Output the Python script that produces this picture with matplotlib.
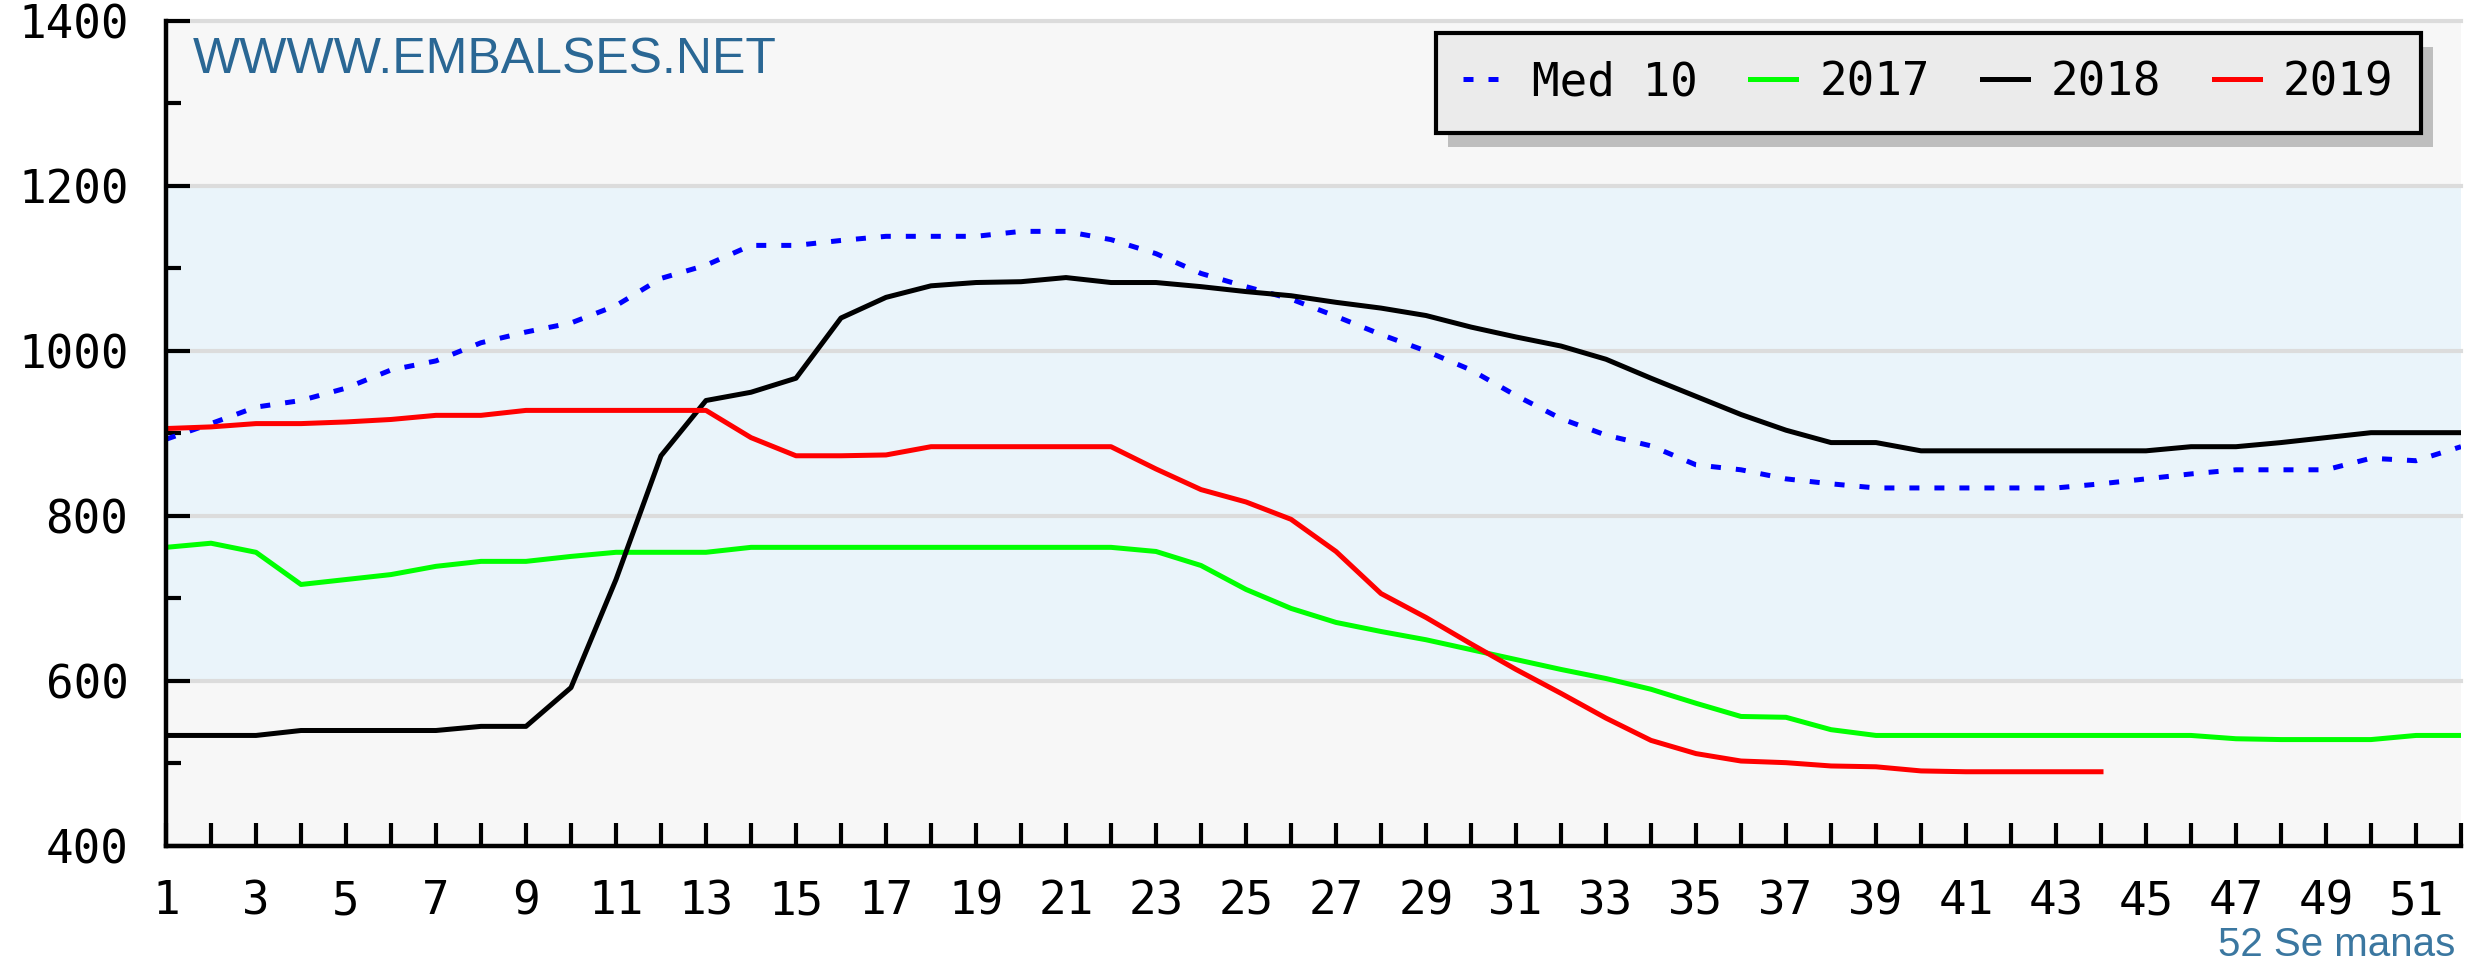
import matplotlib.pyplot as plt
from matplotlib.patches import Rectangle

# semanas e valores (hm3)
weeks = list(range(1, 53))
med10 = [893, 912, 932, 940, 955, 977, 988, 1010, 1023, 1034,
         1055, 1088, 1104, 1128, 1128, 1134, 1139, 1139, 1139, 1145,
         1145, 1135, 1118, 1094, 1078, 1063, 1042, 1020, 1000, 977,
         946, 918, 898, 885, 862, 856, 845, 839, 834, 834,
         834, 834, 834, 839, 845, 851, 856, 856, 856, 870,
         867, 884]
y2017 = [762, 767, 756, 717, 723, 729, 739, 745, 745, 751,
         756, 756, 756, 762, 762, 762, 762, 762, 762, 762,
         762, 762, 757, 740, 711, 688, 671, 660, 650, 638,
         626, 614, 603, 590, 573, 557, 556, 541, 534, 534,
         534, 534, 534, 534, 534, 534, 530, 529, 529, 529,
         534, 534]
y2018 = [534, 534, 534, 540, 540, 540, 540, 545, 545, 592,
         723, 873, 940, 950, 967, 1040, 1065, 1079, 1083, 1084,
         1089, 1083, 1083, 1078, 1072, 1067, 1059, 1052, 1043, 1029,
         1017, 1006, 990, 967, 945, 923, 904, 889, 889, 879,
         879, 879, 879, 879, 879, 884, 884, 889, 895, 901,
         901, 901]
y2019 = [906, 908, 912, 912, 914, 917, 922, 922, 928, 928,
         928, 928, 928, 895, 873, 873, 874, 884, 884, 884,
         884, 884, 857, 832, 817, 796, 757, 706, 677, 645,
         614, 585, 555, 528, 512, 503, 501, 497, 496, 491,
         490, 490, 490, 490]
weeks_2019 = weeks[:len(y2019)]

series_labels = ['Med 10', '2017', '2018', '2019']
y_major = list(range(400, 1401, 200))
y_minor = list(range(500, 1400, 200))
x_major = list(range(1, 53, 2))
x_minor = list(range(2, 53, 2))

mono = 'DejaVu Sans Mono'
blue_txt = '#2A6794'
lw = 3.6

fig = plt.figure(figsize=(24.79, 9.64), dpi=100)
ax = fig.add_axes([0.06696, 0.12241, 0.92578, 0.85581])

# fundo e faixa azul
ax.set_facecolor('#F7F7F7')
ax.axhspan(600, 1200, color='#EAF4FA', zorder=0)
for v in [600, 800, 1000, 1200, 1400]:
    ax.axhline(v, color='#DCDCDC', lw=3, zorder=0.5, clip_on=False)

# séries
ax.plot(weeks, med10, color='#0000FF', lw=lw, linestyle=(0, (2, 3)),
        dash_capstyle='butt', label=series_labels[0], zorder=3)
ax.plot(weeks, y2017, color='#00FF00', lw=lw, label=series_labels[1], zorder=3.1)
ax.plot(weeks, y2018, color='black', lw=lw, label=series_labels[2], zorder=3.2)
ax.plot(weeks_2019, y2019, color='#FF0000', lw=lw, label=series_labels[3], zorder=3.3)

ax.set_xlim(1, 52)
ax.set_ylim(400, 1400)

# eixos
for s in ['top', 'right']:
    ax.spines[s].set_visible(False)
for s in ['left', 'bottom']:
    ax.spines[s].set_color('black')
    ax.spines[s].set_linewidth(3.2)
    ax.spines[s].set_zorder(4)

ax.set_yticks(y_major)
ax.set_yticks(y_minor, minor=True)
ax.set_xticks(x_major)
ax.set_xticks(x_minor, minor=True)
ax.tick_params(axis='both', which='both', direction='in', width=3, color='black')
ax.tick_params(axis='y', which='major', length=17, pad=27)
ax.tick_params(axis='y', which='minor', length=10.5)
ax.tick_params(axis='x', which='both', length=16.5, pad=24)
for lab in ax.get_xticklabels() + ax.get_yticklabels():
    lab.set_fontfamily(mono)
    lab.set_fontsize(33)

# textos
ax.text(0.0118, 0.9527, 'WWWW.EMBALSES.NET', transform=ax.transAxes,
        fontsize=36, family='Liberation Sans', color=blue_txt,
        ha='left', va='center', zorder=2)
fig.text(0.9903, 0.0195, '52 Se manas', ha='right', va='center',
         fontsize=29, family='Liberation Sans', color='#3B77A0')

# legenda
leg = ax.legend(loc='upper right', bbox_to_anchor=(0.9826, 0.9855), ncol=4,
                prop={'family': mono, 'size': 33}, frameon=True, fancybox=False,
                facecolor='#EBEBEB', edgecolor='black', framealpha=1,
                handlelength=1.0, handletextpad=0.5, columnspacing=1.15,
                borderpad=0.6, borderaxespad=0)
leg.get_frame().set_linewidth(3)
leg.set_zorder(6)

# sombra da legenda
fig.canvas.draw()
bb = leg.get_frame().get_window_extent()
inv = ax.transAxes.inverted()
(x0, y0) = inv.transform((bb.x0 + 12, bb.y0 - 14))
(x1, y1) = inv.transform((bb.x1 + 12, bb.y1 - 14))
ax.add_patch(Rectangle((x0, y0), x1 - x0, y1 - y0, transform=ax.transAxes,
                       facecolor='#BEBEBE', edgecolor='none', zorder=5,
                       clip_on=False))

plt.savefig('out.png', dpi=100)
